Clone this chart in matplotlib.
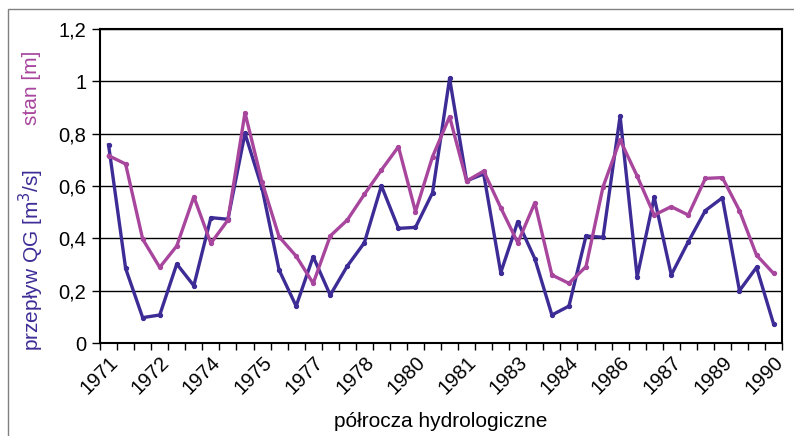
import numpy as np
import matplotlib
matplotlib.use("Agg")
import matplotlib.pyplot as plt
from matplotlib.patches import Rectangle
from matplotlib.ticker import FuncFormatter

plt.rcParams['font.family'] = ['Liberation Sans', 'DejaVu Sans']

# half-year labels (every 3rd category is labelled)
years = ['1971', '1972', '1974', '1975', '1977', '1978', '1980',
         '1981', '1983', '1984', '1986', '1987', '1989', '1990']

# przeplyw QG [m3/s]
flow = [0.757, 0.285, 0.097, 0.107, 0.302, 0.219, 0.479, 0.473, 0.801, 0.592,
        0.279, 0.141, 0.330, 0.183, 0.294, 0.383, 0.601, 0.438, 0.442, 0.574,
        1.011, 0.620, 0.646, 0.269, 0.464, 0.322, 0.107, 0.141, 0.409, 0.404,
        0.867, 0.253, 0.557, 0.260, 0.387, 0.506, 0.555, 0.200, 0.289, 0.073]

# stan [m]
stage = [0.716, 0.684, 0.397, 0.289, 0.371, 0.559, 0.381, 0.470, 0.880, 0.615,
         0.406, 0.332, 0.228, 0.409, 0.470, 0.568, 0.661, 0.750, 0.502, 0.712,
         0.865, 0.619, 0.657, 0.517, 0.383, 0.536, 0.260, 0.228, 0.292, 0.597,
         0.776, 0.638, 0.489, 0.521, 0.489, 0.629, 0.632, 0.506, 0.336, 0.266]

blue = '#3d2c96'
pink = '#a8469e'

fig = plt.figure(figsize=(7.94, 4.36), dpi=100)
ax = fig.add_axes([0.126, 0.2133, 0.859, 0.7202])

# outer chart border (cropped on the right/bottom)
fig.patches.append(Rectangle((8 / 794, -0.1), 1.2, (436 - 9) / 436 + 0.1,
                             transform=fig.transFigure, fill=False,
                             edgecolor='#808080', linewidth=1.0))

x = np.arange(len(flow))
ax.plot(x, flow, color=blue, lw=2.4, marker='o', ms=2.8, zorder=3)
ax.plot(x, stage, color=pink, lw=2.4, marker='o', ms=2.8, zorder=4)

ax.set_xlim(-0.5, len(flow) - 0.5)
ax.set_ylim(0, 1.2)
ax.set_yticks(np.arange(0, 1.21, 0.2))
ax.yaxis.set_major_formatter(FuncFormatter(
    lambda v, p: ('%g' % round(v, 1)).replace('.', ',')))
ax.grid(axis='y', color='black', lw=1.0, zorder=1)
ax.tick_params(axis='y', length=6, width=1, labelsize=14.5, pad=4)

# category boundary ticks and labels every 3rd category
ax.set_xticks(np.arange(-0.5, len(flow)), minor=False)
ax.set_xticklabels([])
ax.set_xticks(x[::3], minor=True)
ax.set_xticklabels(years, minor=True, rotation=45, ha='right',
                   rotation_mode='anchor', fontsize=14.5)
ax.tick_params(axis='x', which='major', length=5, width=1)
ax.tick_params(axis='x', which='minor', length=0, pad=7)

for s in ax.spines.values():
    s.set_color('black')
    s.set_linewidth(1.5)

ax.set_xlabel('półrocza hydrologiczne', fontsize=15, labelpad=10)

fig.text(0.040, 0.798, 'stan [m]', color=pink, rotation=90,
         ha='center', va='center', fontsize=15)
fig.text(0.040, 0.404, 'przepływ QG [m$^3$/s]', color=blue, rotation=90,
         ha='center', va='center', fontsize=15)

fig.savefig('out.png', dpi=100)
